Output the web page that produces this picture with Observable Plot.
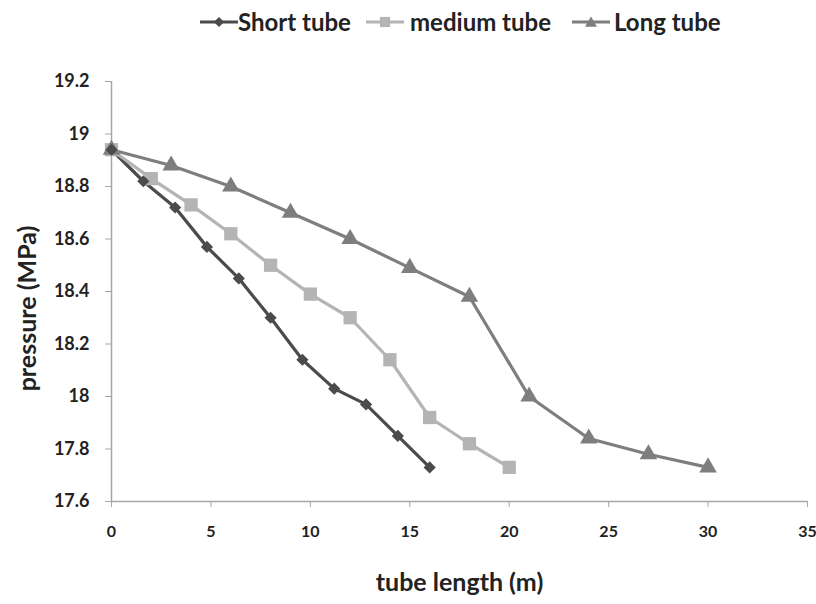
<!DOCTYPE html>
<html>
<head>
<meta charset="utf-8">
<script src="https://cdn.jsdelivr.net/npm/d3@7"></script>
<script src="https://cdn.jsdelivr.net/npm/@observablehq/plot@0.6"></script>
<style>
  body { margin: 0; background: #fff; font-family: Lato, "Open Sans", sans-serif; }
  #legend { position: relative; height: 45px; width: 816px; }
  .sw { position: absolute; top: 14px; }
  .lt { position: absolute; top: 7px; font-weight: bold; font-size: 24px; line-height: 30px; color: #222; white-space: nowrap; }
</style>
</head>
<body>
<div id="legend"></div>
<div id="chart"></div>
<script>
// ---- data ----
const seriesNames = ["Short tube", "medium tube", "Long tube"];
const shortX = [0, 1.6, 3.2, 4.8, 6.4, 8, 9.6, 11.2, 12.8, 14.4, 16];
const shortY = [18.94, 18.82, 18.72, 18.57, 18.45, 18.30, 18.14, 18.03, 17.97, 17.85, 17.73];
const mediumX = [0, 2, 4, 6, 8, 10, 12, 14, 16, 18, 20];
const mediumY = [18.94, 18.83, 18.73, 18.62, 18.50, 18.39, 18.30, 18.14, 17.92, 17.82, 17.73];
const longX = [0, 3, 6, 9, 12, 15, 18, 21, 24, 27, 30];
const longY = [18.94, 18.88, 18.80, 18.70, 18.60, 18.49, 18.38, 18.00, 17.84, 17.78, 17.73];
const xTicks = [0, 5, 10, 15, 20, 25, 30, 35];
const yTicks = [17.6, 17.8, 18, 18.2, 18.4, 18.6, 18.8, 19, 19.2];

const colors = {"Short tube": "#4b4b4b", "medium tube": "#b4b4b4", "Long tube": "#7e7e7e"};
const symbols = {"Short tube": "diamond2", "medium tube": "square", "Long tube": "triangle"};
const sizes = {"Short tube": 5.5, "medium tube": 7.5, "Long tube": 6.5};

const data = [
  ...shortX.map((x, i) => ({series: "Short tube", x, y: shortY[i]})),
  ...mediumX.map((x, i) => ({series: "medium tube", x, y: mediumY[i]})),
  ...longX.map((x, i) => ({series: "Long tube", x, y: longY[i]}))
];

// ---- legend ----
const legend = document.getElementById("legend");
const swatchPos = [200, 366, 572];
const textPos = [238, 410, 614];
const symPaths = {
  "Short tube": "M0,-6L6,0L0,6L-6,0Z",
  "medium tube": "M-6,-6H6V6H-6Z",
  "Long tube": "M0,-6.5L7,5.5L-7,5.5Z"
};
seriesNames.forEach((name, i) => {
  const sw = document.createElement("div");
  sw.className = "sw";
  sw.style.left = swatchPos[i] + "px";
  sw.innerHTML = `<svg width="38" height="16" viewBox="-19 -8 38 16"><line x1="-19" x2="19" y1="0" y2="0" stroke="${colors[name]}" stroke-width="3"/><path d="${symPaths[name]}" fill="${colors[name]}" transform="scale(0.85)"/></svg>`;
  legend.appendChild(sw);
  const t = document.createElement("div");
  t.className = "lt";
  t.style.left = textPos[i] + "px";
  t.textContent = name;
  legend.appendChild(t);
});

// ---- chart ----
const plot = Plot.plot({
  width: 816,
  height: 559,
  marginLeft: 111,
  marginRight: 9,
  marginTop: 36,
  marginBottom: 103,
  style: {fontFamily: "Lato, 'Open Sans', sans-serif", background: "#fff"},
  x: {domain: [0, 35]},
  y: {domain: [17.6, 19.2]},
  marks: [
    Plot.ruleX([0], {stroke: "#a6a6a6", strokeWidth: 1.5}),
    Plot.ruleY([17.6], {stroke: "#a6a6a6", strokeWidth: 1.5}),
    Plot.axisX({ticks: xTicks, tickSize: 6, tickPadding: 18, stroke: "#a6a6a6", fontSize: 16, fontWeight: "bold", fill: "#222", label: null, tickFormat: d => String(d)}),
    Plot.axisY({ticks: yTicks, tickSize: 6, tickPadding: 16, stroke: "#a6a6a6", fontSize: 18, fontWeight: "bold", fill: "#222", label: null, tickFormat: d => String(+d.toFixed(1))}),
    Plot.line(data, {x: "x", y: "y", z: "series", stroke: d => colors[d.series], strokeWidth: 3.2}),
    Plot.dot(data, {x: "x", y: "y", symbol: d => symbols[d.series], fill: d => colors[d.series], r: d => sizes[d.series], stroke: null}),
    Plot.text(["tube length (m)"], {text: d => d, frameAnchor: "bottom", textAnchor: "middle", lineAnchor: "middle", dy: 81, fontSize: 25, fontWeight: "bold", fill: "#222"}),
    Plot.text(["pressure (MPa)"], {text: d => d, frameAnchor: "left", textAnchor: "middle", lineAnchor: "middle", dx: -84, dy: 17, rotate: -90, fontSize: 25, letterSpacing: 2.5, fontWeight: "bold", fill: "#222"})
  ],
  symbol: {type: "identity"},
  color: {type: "identity"},
  r: {type: "identity"}
});
document.getElementById("chart").appendChild(plot);
</script>
</body>
</html>
